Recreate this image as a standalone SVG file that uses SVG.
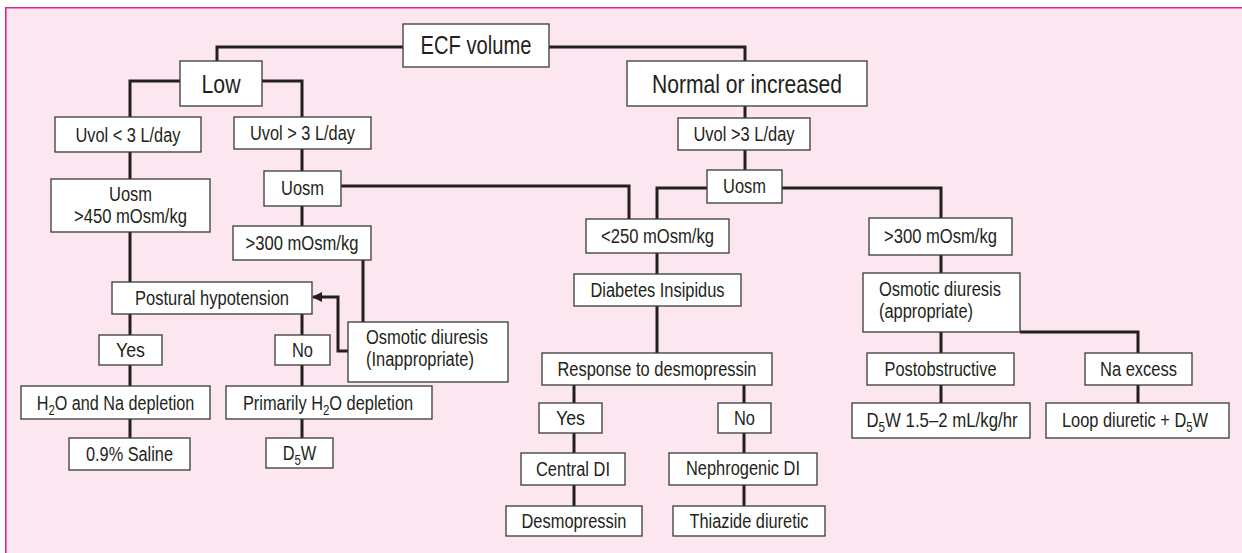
<svg xmlns="http://www.w3.org/2000/svg" width="1242" height="553" viewBox="0 0 1242 553">
  <defs>
    <style>
      .bg { fill: #fce7f1; }
      .frame { fill: none; stroke: #e2238c; stroke-width: 1.6; }
      .box { fill: #ffffff; stroke: #3a3a3a; stroke-width: 1.3; }
      .wire { fill: none; stroke: #231f20; stroke-width: 3; }
      text { font-family: "Liberation Sans", Arial, sans-serif; fill: #231f20; }
      .t { font-size: 20px; text-anchor: middle; }
      .tl { font-size: 20px; text-anchor: start; }
      .big { font-size: 25px; text-anchor: middle; }
      .sub { font-size: 14px; }
    </style>
    <marker id="arrow" viewBox="0 0 10 10" refX="9" refY="5" markerWidth="10" markerHeight="10" markerUnits="userSpaceOnUse" orient="auto">
      <path d="M0,0 L10,5 L0,10 Z" fill="#231f20"/>
    </marker>
  </defs>

  <!-- panel -->
  <rect class="bg" x="5" y="7" width="1237" height="546"/>
  <path class="frame" d="M5.8,553 V7.8 H1242"/>

  <!-- connectors -->
  <g id="connectors">
    <path class="wire" d="M403,47 H217 V61"/>
    <path class="wire" d="M549,47 H745 V61"/>
    <path class="wire" d="M180,81 H130 V117"/>
    <path class="wire" d="M262,81 H302 V117"/>
    <path class="wire" d="M130,152 V179"/>
    <path class="wire" d="M130,232 V282"/>
    <path class="wire" d="M130,314 V335"/>
    <path class="wire" d="M302,314 V335"/>
    <path class="wire" d="M130,365 V386"/>
    <path class="wire" d="M302,365 V386"/>
    <path class="wire" d="M130,419 V438"/>
    <path class="wire" d="M302,419 V438"/>
    <path class="wire" d="M302,149 V171"/>
    <path class="wire" d="M302,206 V226"/>
    <path class="wire" d="M341,186 H629 V219"/>
    <path class="wire" d="M363,260 V322"/>
    <path class="wire" d="M348,351 H338 V297 H313" marker-end="url(#arrow)"/>
    <path class="wire" d="M745,106 V118"/>
    <path class="wire" d="M745,150 V170"/>
    <path class="wire" d="M707,188 H657 V219"/>
    <path class="wire" d="M782,188 H941 V218"/>
    <path class="wire" d="M657,253 V274"/>
    <path class="wire" d="M657,306 V353"/>
    <path class="wire" d="M574,385 V403"/>
    <path class="wire" d="M744,385 V403"/>
    <path class="wire" d="M574,433 V453"/>
    <path class="wire" d="M744,433 V453"/>
    <path class="wire" d="M574,485 V506"/>
    <path class="wire" d="M744,485 V506"/>
    <path class="wire" d="M941,255 V273"/>
    <path class="wire" d="M941,332 V353"/>
    <path class="wire" d="M1020,332 H1138 V353"/>
    <path class="wire" d="M941,385 V403"/>
    <path class="wire" d="M1138,385 V403"/>
  </g>

  <!-- nodes: condensed lettering via textLength, or a horizontal squeeze where subscripts occur -->
  <g id="ecf"><rect class="box" x="403" y="24" width="146" height="43"/><text class="big" x="476" y="54" textLength="111" lengthAdjust="spacingAndGlyphs">ECF volume</text></g>
  <g id="low"><rect class="box" x="180" y="61" width="82" height="45"/><text class="big" x="221" y="93" textLength="39" lengthAdjust="spacingAndGlyphs">Low</text></g>
  <g id="normal"><rect class="box" x="627" y="61" width="240" height="45"/><text class="big" x="747" y="93" textLength="190" lengthAdjust="spacingAndGlyphs">Normal or increased</text></g>

  <g id="uvol-lt3"><rect class="box" x="55" y="117" width="146" height="35"/><text class="t" x="128" y="141.5" textLength="105" lengthAdjust="spacingAndGlyphs">Uvol &lt; 3 L/day</text></g>
  <g id="uvol-gt3"><rect class="box" x="234" y="117" width="137" height="32"/><text class="t" x="302.5" y="140" textLength="105" lengthAdjust="spacingAndGlyphs">Uvol &gt; 3 L/day</text></g>
  <g id="uosm-450"><rect class="box" x="51" y="179" width="159" height="53"/><text class="t" x="130.5" y="201" textLength="43" lengthAdjust="spacingAndGlyphs">Uosm</text><text class="t" x="130.5" y="223" textLength="113" lengthAdjust="spacingAndGlyphs">&gt;450 mOsm/kg</text></g>
  <g id="uosm-left"><rect class="box" x="264" y="171" width="77" height="35"/><text class="t" x="302.5" y="195" textLength="43" lengthAdjust="spacingAndGlyphs">Uosm</text></g>
  <g id="gt300-left"><rect class="box" x="233" y="226" width="138" height="34"/><text class="t" x="302" y="250" textLength="113" lengthAdjust="spacingAndGlyphs">&gt;300 mOsm/kg</text></g>
  <g id="postural"><rect class="box" x="112" y="282" width="200" height="32"/><text class="t" x="212" y="305" textLength="154" lengthAdjust="spacingAndGlyphs">Postural hypotension</text></g>
  <g id="osmotic-inapp"><rect class="box" x="348" y="322" width="160" height="60"/><text class="tl" x="366" y="344" textLength="122" lengthAdjust="spacingAndGlyphs">Osmotic diuresis</text><text class="tl" x="366" y="366" textLength="108" lengthAdjust="spacingAndGlyphs">(Inappropriate)</text></g>
  <g id="yes-left"><rect class="box" x="99" y="335" width="63" height="30"/><text class="t" x="130.5" y="357" textLength="29" lengthAdjust="spacingAndGlyphs">Yes</text></g>
  <g id="no-left"><rect class="box" x="275" y="335" width="55" height="30"/><text class="t" x="302.5" y="357" textLength="21" lengthAdjust="spacingAndGlyphs">No</text></g>
  <g id="h2o-na"><rect class="box" x="21" y="386" width="189" height="33"/><text class="t" transform="translate(115.5,409.5) scale(0.81,1)">H<tspan class="sub" dy="5">2</tspan><tspan dy="-5">O and Na depletion</tspan></text></g>
  <g id="h2o-only"><rect class="box" x="226" y="386" width="206" height="33"/><text class="t" transform="translate(328,409.5) scale(0.82,1)">Primarily H<tspan class="sub" dy="5">2</tspan><tspan dy="-5">O depletion</tspan></text></g>
  <g id="saline"><rect class="box" x="69" y="438" width="121" height="32"/><text class="t" x="129.5" y="461" textLength="87" lengthAdjust="spacingAndGlyphs">0.9% Saline</text></g>
  <g id="d5w"><rect class="box" x="266" y="438" width="67" height="30"/><text class="t" transform="translate(299.5,460) scale(0.82,1)">D<tspan class="sub" dy="5">5</tspan><tspan dy="-5">W</tspan></text></g>

  <g id="uvol-right"><rect class="box" x="678" y="118" width="132" height="32"/><text class="t" x="744" y="141" textLength="101" lengthAdjust="spacingAndGlyphs">Uvol &gt;3 L/day</text></g>
  <g id="uosm-right"><rect class="box" x="707" y="170" width="75" height="33"/><text class="t" x="744.5" y="193" textLength="43" lengthAdjust="spacingAndGlyphs">Uosm</text></g>
  <g id="lt250"><rect class="box" x="586" y="219" width="143" height="34"/><text class="t" x="657.5" y="243" textLength="113" lengthAdjust="spacingAndGlyphs">&lt;250 mOsm/kg</text></g>
  <g id="di"><rect class="box" x="574" y="274" width="167" height="32"/><text class="t" x="657.5" y="297" textLength="134" lengthAdjust="spacingAndGlyphs">Diabetes Insipidus</text></g>
  <g id="response"><rect class="box" x="542" y="353" width="230" height="32"/><text class="t" x="657" y="376" textLength="199" lengthAdjust="spacingAndGlyphs">Response to desmopressin</text></g>
  <g id="yes-right"><rect class="box" x="539" y="403" width="63" height="30"/><text class="t" x="570.5" y="425" textLength="29" lengthAdjust="spacingAndGlyphs">Yes</text></g>
  <g id="no-right"><rect class="box" x="718" y="403" width="53" height="30"/><text class="t" x="744.5" y="425" textLength="21" lengthAdjust="spacingAndGlyphs">No</text></g>
  <g id="central"><rect class="box" x="521" y="453" width="104" height="32"/><text class="t" x="573" y="476" textLength="74" lengthAdjust="spacingAndGlyphs">Central DI</text></g>
  <g id="nephrogenic"><rect class="box" x="669" y="453" width="148" height="32"/><text class="t" x="743" y="475" textLength="114" lengthAdjust="spacingAndGlyphs">Nephrogenic DI</text></g>
  <g id="desmopressin"><rect class="box" x="506" y="506" width="136" height="30"/><text class="t" x="574" y="528" textLength="105" lengthAdjust="spacingAndGlyphs">Desmopressin</text></g>
  <g id="thiazide"><rect class="box" x="673" y="506" width="152" height="30"/><text class="t" x="749" y="528" textLength="119" lengthAdjust="spacingAndGlyphs">Thiazide diuretic</text></g>

  <g id="gt300-right"><rect class="box" x="869" y="218" width="143" height="37"/><text class="t" x="940.5" y="243" textLength="113" lengthAdjust="spacingAndGlyphs">&gt;300 mOsm/kg</text></g>
  <g id="osmotic-app"><rect class="box" x="863" y="273" width="157" height="59"/><text class="tl" x="879" y="296" textLength="122" lengthAdjust="spacingAndGlyphs">Osmotic diuresis</text><text class="tl" x="879" y="318" textLength="94" lengthAdjust="spacingAndGlyphs">(appropriate)</text></g>
  <g id="postobstructive"><rect class="box" x="867" y="353" width="147" height="32"/><text class="t" x="940.5" y="376" textLength="112" lengthAdjust="spacingAndGlyphs">Postobstructive</text></g>
  <g id="na-excess"><rect class="box" x="1085" y="353" width="107" height="32"/><text class="t" x="1138.5" y="376" textLength="77" lengthAdjust="spacingAndGlyphs">Na excess</text></g>
  <g id="d5w-rate"><rect class="box" x="852" y="403" width="178" height="35"/><text class="t" transform="translate(942,427) scale(0.84,1)">D<tspan class="sub" dy="5">5</tspan><tspan dy="-5">W 1.5–2 mL/kg/hr</tspan></text></g>
  <g id="loop"><rect class="box" x="1046" y="403" width="183" height="35"/><text class="t" transform="translate(1135,427) scale(0.82,1)">Loop diuretic + D<tspan class="sub" dy="5">5</tspan><tspan dy="-5">W</tspan></text></g>
</svg>
